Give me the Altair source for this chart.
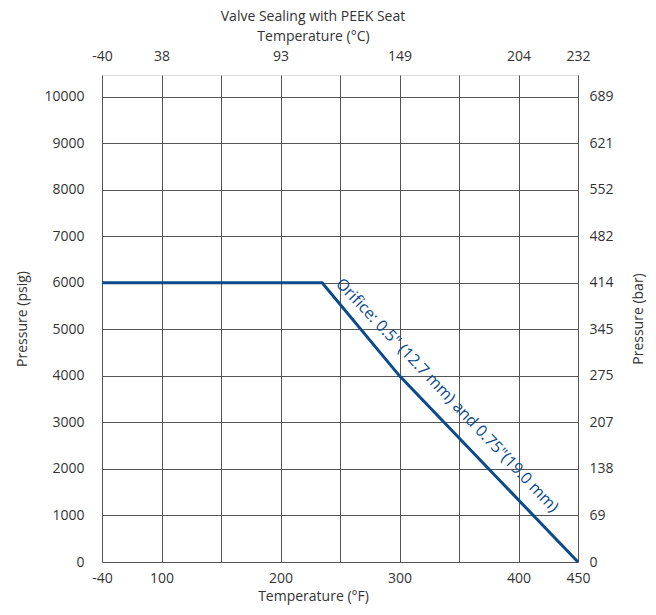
import altair as alt
import pandas as pd

# Data
temp_f = [-40, 235, 300, 450]
pressure_psig = [6000, 6000, 4000, 0]

f_tick_values = [-40, 100, 150, 200, 250, 300, 350, 400, 450]
f_labelled = [-40, 100, 200, 300, 400, 450]
f_labels = ["-40", "100", "200", "300", "400", "450"]
c_labels = ["-40", "38", "93", "149", "204", "232"]
psig_ticks = [0, 1000, 2000, 3000, 4000, 5000, 6000, 7000, 8000, 9000, 10000]
bar_labels = ["0", "69", "138", "207", "275", "345", "414", "482", "552", "621", "689"]

note_text = ["Orifice: 0.5\" (12.7 mm) and 0.75\"(19.0 mm)"]
note_x = [340]
note_y = [3580]

FONT = "Open Sans"
BLUE = "#0b4a8b"
TXT = "#333333"

line_df = pd.DataFrame({"F": temp_f, "psig": pressure_psig})
note_df = pd.DataFrame({"F": note_x, "psig": note_y, "t": note_text})

W, H = 476, 487
xscale = alt.Scale(domain=[-40, 100, 450], range=[0, 59.5, W], nice=False, zero=False)
yscale = alt.Scale(domain=[0, 10465], nice=False, zero=True)

labelled_js = "[" + ",".join(str(v) for v in f_labelled) + "]"
f_js = "[" + ",".join("'" + s + "'" for s in f_labels) + "]"
c_js = "[" + ",".join("'" + s + "'" for s in c_labels) + "]"
bar_js = "[" + ",".join("'" + s + "'" for s in bar_labels) + "]"

common_axis = dict(labelFont=FONT, titleFont=FONT, labelFontSize=14, titleFontSize=14,
                   labelColor=TXT, titleColor=TXT, titleFontWeight="normal", ticks=False,
                   domain=False, labelFlush=False)

line = alt.Chart(line_df).mark_line(color=BLUE, strokeWidth=3).encode(
    x=alt.X("F:Q", scale=xscale, axis=alt.Axis(
        orient="bottom", values=f_tick_values,
        labelExpr=f"indexof({labelled_js}, datum.value) >= 0 ? {f_js}[indexof({labelled_js}, datum.value)] : ''",
        title="Temperature (°F)", grid=True, gridColor="#555", gridWidth=1,
        labelPadding=9, titlePadding=4, titleX=211, **common_axis)),
    y=alt.Y("psig:Q", scale=yscale, axis=alt.Axis(
        orient="left", values=psig_ticks, format="d",
        title="Pressure (psig)", grid=True, gridColor="#555", gridWidth=1,
        labelPadding=18, titlePadding=14, **common_axis)),
)

note = alt.Chart(note_df).mark_text(color=BLUE, font=FONT, fontSize=16, angle=46.5,
                                    align="center", baseline="middle").encode(
    x=alt.X("F:Q", scale=xscale, axis=alt.Axis(
        orient="top", values=f_labelled,
        labelExpr=f"{c_js}[indexof({labelled_js}, datum.value)]",
        title="Temperature (°C)", grid=False, labelPadding=12, titlePadding=6, titleX=211,
        **common_axis)),
    y=alt.Y("psig:Q", scale=yscale, axis=alt.Axis(
        orient="right", values=psig_ticks,
        labelExpr=f"{bar_js}[round(datum.value/1000)]",
        title="Pressure (bar)", grid=False, labelPadding=11, titlePadding=32, titleAngle=270,
        **common_axis)),
    text="t:N",
)

chart = alt.layer(line, note).resolve_axis(x="independent", y="independent").properties(
    width=W, height=H,
    autosize=alt.AutoSizeParams(type="none"),
    padding={"left": 94, "top": 67, "right": 70, "bottom": 45},
    title=alt.Title("Valve Sealing with PEEK Seat", font=FONT, fontSize=14, fontWeight="normal",
                    color=TXT, dx=-27, offset=5),
).configure_view(stroke="#666", strokeWidth=1).configure(background="white")

chart.save("out.html", embed_options={"renderer": "svg", "actions": False})
